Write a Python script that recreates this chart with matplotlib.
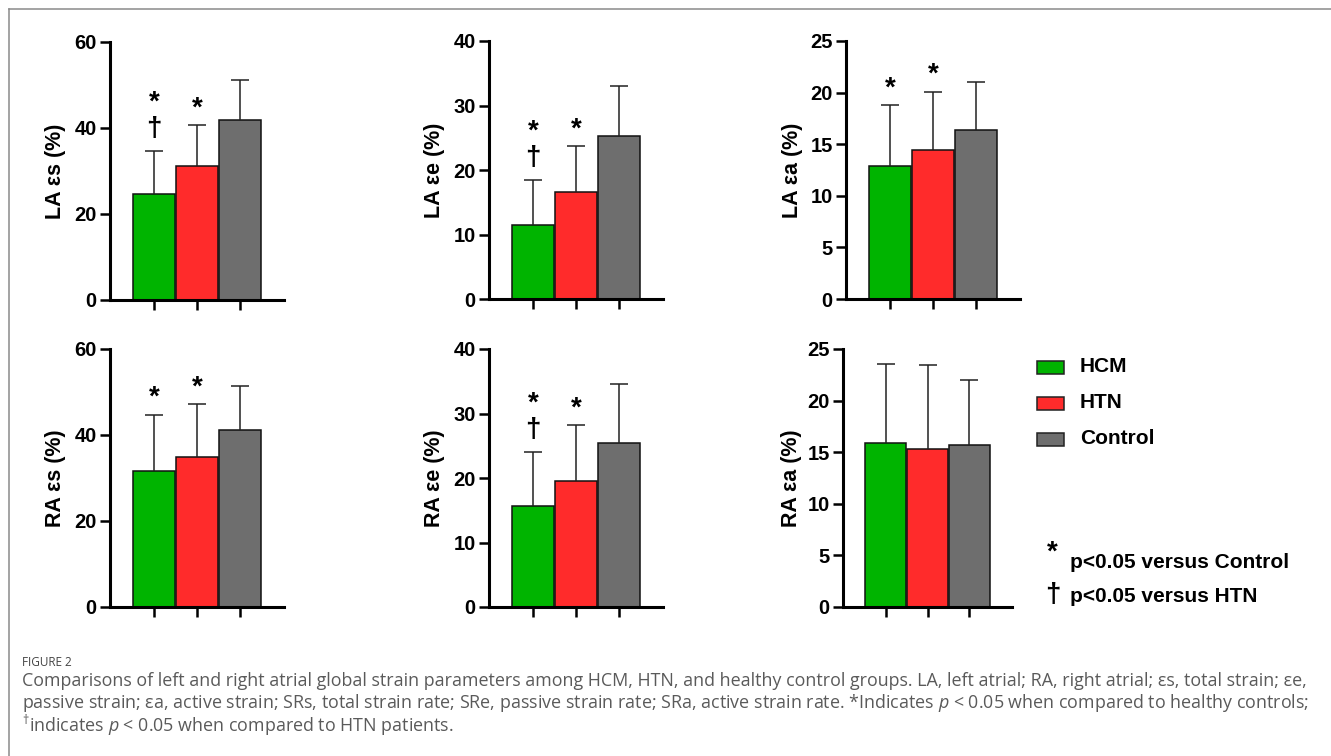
#!/usr/bin/env python3
"""
Atrial strain comparison (HCM / HTN / Control), 2x3 bar panels with SD error bars.
"""

import matplotlib
matplotlib.use('Agg')
import matplotlib.pyplot as plt
from matplotlib.lines import Line2D
from matplotlib.patches import Rectangle
import numpy as np

OUTPUT_FILE = 'out.png'
W, H = 1331, 756

groups = ['HCM', 'HTN', 'Control']
colors = ['#00B400', '#FF2B2B', '#6E6E6E']

# means and SDs
la_es_mean = [24.6, 31.2, 41.9]
la_es_sd = [10.0, 9.4, 9.3]
la_ee_mean = [11.5, 16.6, 25.3]
la_ee_sd = [6.9, 7.1, 7.7]
la_ea_mean = [12.9, 14.4, 16.35]
la_ea_sd = [5.9, 5.7, 4.65]
ra_es_mean = [31.6, 34.9, 41.2]
ra_es_sd = [13.1, 12.3, 10.3]
ra_ee_mean = [15.6, 19.5, 25.4]
ra_ee_sd = [8.4, 8.7, 9.2]
ra_ea_mean = [15.9, 15.27, 15.7]
ra_ea_sd = [7.6, 8.2, 6.3]

# significance marks per bar
la_es_marks = ['*†', '*', '']
la_ee_marks = ['*†', '*', '']
la_ea_marks = ['*', '*', '']
ra_es_marks = ['*', '*', '']
ra_ee_marks = ['*†', '*', '']
ra_ea_marks = ['', '', '']

caption_lines = [
    'Comparisons of left and right atrial global strain parameters among HCM, HTN, and healthy control groups. LA, left atrial; RA, right atrial; εs, total strain; εe,',
    'passive strain; εa, active strain; SRs, total strain rate; SRe, passive strain rate; SRa, active strain rate. *Indicates $\\mathit{p}$ < 0.05 when compared to healthy controls;',
    '$^{\\mathrm{†}}$indicates $\\mathit{p}$ < 0.05 when compared to HTN patients.',
]

plt.rcParams['font.family'] = ['Liberation Sans', 'DejaVu Sans']
plt.rcParams['mathtext.fontset'] = 'custom'
plt.rcParams['mathtext.rm'] = 'Open Sans'
plt.rcParams['mathtext.it'] = 'Open Sans:italic'


def px_axes(fig, left, top, width, height):
    """Add axes given in pixel coords measured from top-left"""
    return fig.add_axes([left / W, 1 - (top + height) / H, width / W, height / H])


def draw_panel(ax, means, sds, ymax, ystep, ylabel, marks, width_px, label_off):
    x = np.arange(3)
    means = np.array(means)
    sds = np.array(sds)
    ax.bar(x, means, width=0.97, color=colors, edgecolor='#111111', linewidth=1.1, zorder=2)
    _, caps, _ = ax.errorbar(x, means, yerr=[np.zeros(3), sds], fmt='none', ecolor='#222222',
                             elinewidth=1.1, capsize=6.5, capthick=1.1, zorder=3)
    caps[0].set_visible(False)

    ax.set_xlim(-1.02, 3.02)
    ax.set_ylim(0, ymax)
    ax.set_yticks(np.arange(0, ymax + 0.1, ystep))
    ax.set_xticks(x)
    ax.set_xticklabels([])
    for s in ['top', 'right']:
        ax.spines[s].set_visible(False)
    for s in ['left', 'bottom']:
        ax.spines[s].set_linewidth(2.2)
    ax.tick_params(axis='both', direction='out', length=7.5, width=1.8, pad=2)
    for lab in ax.get_yticklabels():
        lab.set_fontweight('bold')
        lab.set_fontsize(14.5)
    ax.set_ylabel(ylabel, fontsize=15.5, fontweight='bold', va='center')
    ax.yaxis.set_label_coords(-label_off / width_px, 0.5)

    for xi, m, top in zip(x, marks, means + sds):
        if '†' in m:
            ax.annotate('†', (xi, top), xytext=(0, 16), textcoords='offset points',
                        ha='center', va='center', fontsize=20, fontweight='bold')
            ax.annotate('*', (xi, top), xytext=(0, 35), textcoords='offset points',
                        ha='center', va='center', fontsize=20, fontweight='bold')
        elif '*' in m:
            ax.annotate('*', (xi, top), xytext=(0, 12), textcoords='offset points',
                        ha='center', va='center', fontsize=20, fontweight='bold')


def main():
    fig = plt.figure(figsize=(W / 100, H / 100), dpi=100)

    panels = [
        (la_es_mean, la_es_sd, 60, 20, 'LA εs (%)', la_es_marks, (110, 42, 174, 258), 55),
        (la_ee_mean, la_ee_sd, 40, 10, 'LA εe (%)', la_ee_marks, (489, 41, 174, 258), 54),
        (la_ea_mean, la_ea_sd, 25, 5, 'LA εa (%)', la_ea_marks, (846, 41, 174, 258), 54),
        (ra_es_mean, ra_es_sd, 60, 20, 'RA εs (%)', ra_es_marks, (110, 349, 174, 258), 55),
        (ra_ee_mean, ra_ee_sd, 40, 10, 'RA εe (%)', ra_ee_marks, (489, 349, 174, 258), 54),
        (ra_ea_mean, ra_ea_sd, 25, 5, 'RA εa (%)', ra_ea_marks, (843, 349, 169, 258), 51),
    ]
    for means, sds, ymax, ystep, label, marks, rect, off in panels:
        ax = px_axes(fig, *rect)
        draw_panel(ax, means, sds, ymax, ystep, label, marks, rect[2], off)

    # legend drawn by hand so it sits exactly where the original has it
    for i, (g, c) in enumerate(zip(groups, colors)):
        yc = 367 + i * 36
        fig.patches.append(Rectangle((1037 / W, 1 - (yc + 6.5) / H), 27 / W, 13 / H,
                                     transform=fig.transFigure, facecolor=c,
                                     edgecolor='#222222', linewidth=1.1))
        fig.text(1080 / W, 1 - yc / H, g, fontsize=15, fontweight='bold', va='center')

    fig.text(1052 / W, 1 - 553 / H, '*', fontsize=20, fontweight='bold', ha='center', va='center')
    fig.text(1070 / W, 1 - 562 / H, 'p<0.05 versus Control', fontsize=15,
             fontweight='bold', va='center')
    fig.text(1053 / W, 1 - 595 / H, '†', fontsize=20, fontweight='bold', ha='center', va='center')
    fig.text(1070 / W, 1 - 596 / H, 'p<0.05 versus HTN', fontsize=15,
             fontweight='bold', va='center')

    # frame lines (top and left of the figure box)
    fig.add_artist(Line2D([9 / W, 1], [1 - 9 / H, 1 - 9 / H], color='#8A8A8A', linewidth=1.1,
                          transform=fig.transFigure))
    fig.add_artist(Line2D([9 / W, 9 / W], [0, 1 - 9 / H], color='#8A8A8A', linewidth=1.1,
                          transform=fig.transFigure))

    # caption
    fig.text(22 / W, 1 - 662 / H, 'FIGURE 2', fontsize=8.5, color='#444444', va='center',
             family='Open Sans')
    for i, line in enumerate(caption_lines):
        fig.text(22 / W, 1 - (681 + 22 * i) / H, line, fontsize=12.9, color='#5A5A5A',
                 va='center', family='Open Sans')

    fig.savefig(OUTPUT_FILE, dpi=100)
    print(f'Saved to {OUTPUT_FILE}')


if __name__ == '__main__':
    main()
